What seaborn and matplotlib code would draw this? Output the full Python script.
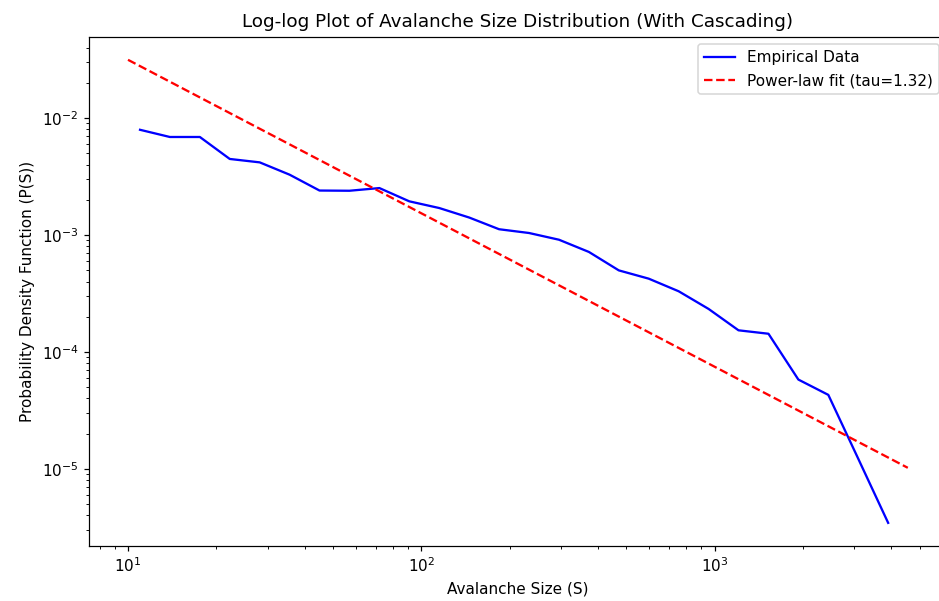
import matplotlib
matplotlib.use("Agg")
import matplotlib.pyplot as plt
import seaborn as sns
import pandas as pd

# Empirical avalanche size distribution
sizes = [10.99, 13.89, 17.58, 22.23, 28.12, 35.56, 44.98, 56.90, 71.97, 91.04,
         115.2, 145.7, 184.2, 233.0, 294.8, 372.9, 471.6, 596.6, 754.6, 954.5,
         1207, 1527, 1931, 2443, 3090, 3908]
pdf_values = [7.94e-3, 6.89e-3, 6.89e-3, 4.47e-3, 4.18e-3, 3.28e-3, 2.40e-3, 2.39e-3,
              2.52e-3, 1.94e-3, 1.70e-3, 1.41e-3, 1.12e-3, 1.04e-3, 9.11e-4, 7.16e-4,
              4.98e-4, 4.23e-4, 3.30e-4, 2.33e-4, 1.53e-4, 1.43e-4, 5.80e-5, 4.29e-5,
              1.22e-5, 3.45e-6]

# Power-law fit line endpoints (straight line in log-log space)
fit_sizes = [10, 4560]
fit_values = [0.0315, 1.02e-5]
tau = 1.32

emp = pd.DataFrame({"S": sizes, "P": pdf_values})
fit = pd.DataFrame({"S": fit_sizes, "P": fit_values})

DPI = 110
fig, ax = plt.subplots(figsize=(939 / DPI, 601 / DPI), dpi=DPI)
fig.subplots_adjust(left=0.0948, right=1.0083, top=0.939, bottom=0.0915)

sns.lineplot(data=emp, x="S", y="P", ax=ax, color="blue", linewidth=1.5,
             label="Empirical Data")
sns.lineplot(data=fit, x="S", y="P", ax=ax, color="red", linewidth=1.5,
             linestyle="--", label=f"Power-law fit (tau={tau:.2f})")

ax.set_xscale("log")
ax.set_yscale("log")
ax.set_xlabel("Avalanche Size (S)")
ax.set_ylabel("Probability Density Function (P(S))")
ax.set_title("Log-log Plot of Avalanche Size Distribution (With Cascading)", fontsize=12)
ax.legend(loc="upper right")

fig.savefig("out.png", dpi=DPI)
